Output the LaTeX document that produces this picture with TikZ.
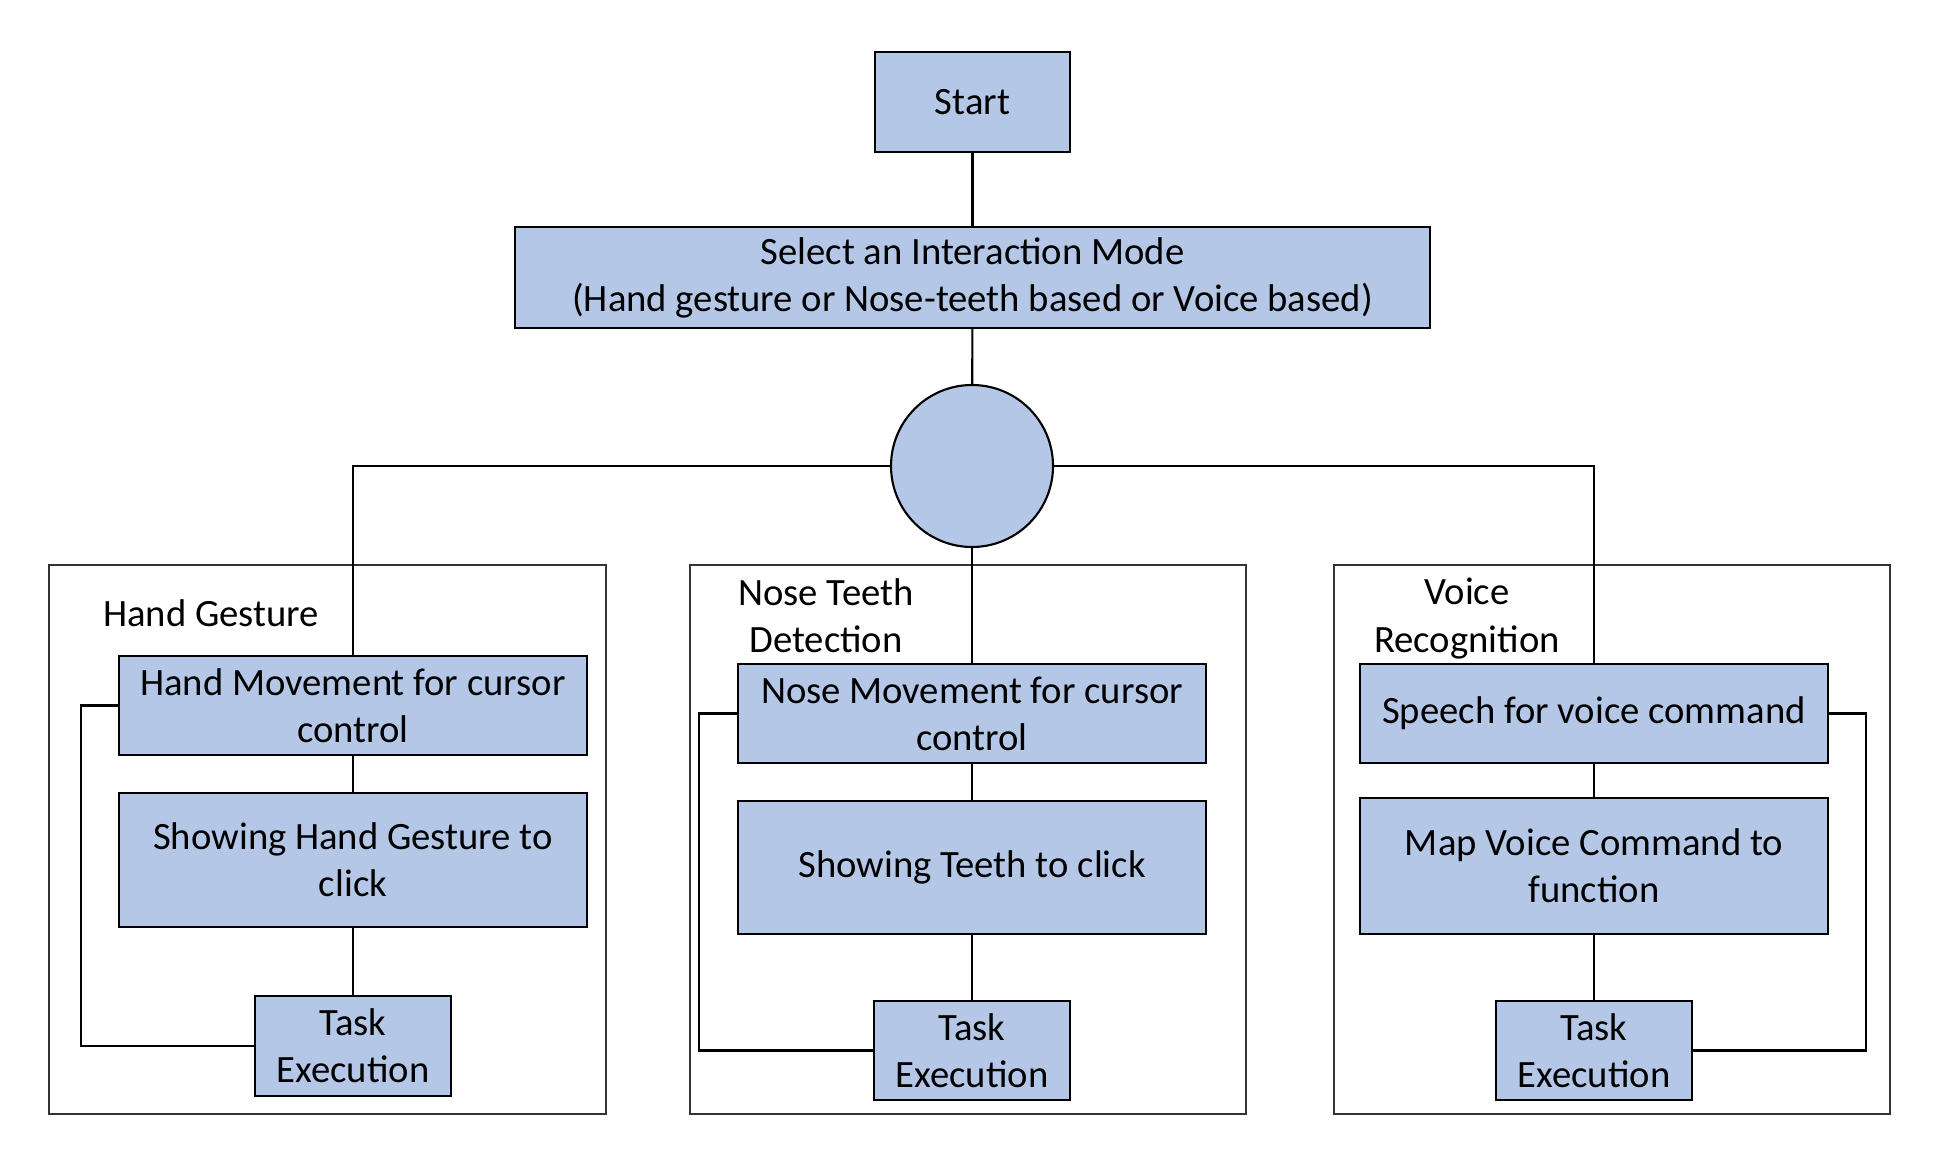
\documentclass[tikz,border=0pt]{standalone}
\usepackage{fontspec}
\setmainfont{Carlito}
\usetikzlibrary{shapes.geometric, positioning}
\definecolor{modeblue}{RGB}{180,199,231}
\tikzstyle{stepbox} = [
  rectangle,
  minimum width=4.68cm,
  minimum height=0.99cm,
  text centered,
  align=center,
  draw=black,
  line width=0.6pt,
  inner sep=0,
  fill=modeblue,
  font=\fontsize{11}{13.4}\selectfont
]
\tikzstyle{taskbox} = [
  stepbox,
  minimum width=1.96cm,
  minimum height=1cm
]
\tikzstyle{hub} = [
  circle,
  minimum size=1.62cm,
  draw=black,
  line width=0.6pt,
  inner sep=0,
  fill=modeblue
]
\tikzstyle{group} = [
  draw=black!80,
  line width=0.5pt
]
\tikzstyle{grouplabel} = [
  align=center,
  inner sep=0,
  font=\fontsize{11}{13.4}\selectfont
]
\tikzstyle{link} = [
  line width=0.6pt,
  draw=black
]

\begin{document}
\begin{tikzpicture}
      \useasboundingbox (0,0) rectangle (19.38,11.66);

      % mode groups
      \draw [group] (0.49,0.52) rectangle (6.06,6.01);
      \draw [group] (6.90,0.52) rectangle (12.46,6.01);
      \draw [group] (13.34,0.52) rectangle (18.90,6.01);

      \node [stepbox, minimum width=1.95cm, minimum height=1cm] (start) at (9.725,10.64) {Start};
      \node [stepbox, minimum width=9.15cm, minimum height=1.01cm] (select) at (9.725,8.885) {Select an Interaction Mode\\(Hand gesture or Nose-teeth based or Voice based)};
      \node [hub] (hub) at (9.72,7.0) {};

      \node [grouplabel] (hand label) at (2.11,5.53) {Hand Gesture};
      \node [stepbox] (hand move) at (3.53,4.605) {Hand Movement for cursor\\control};
      \node [stepbox, minimum height=1.34cm] (hand click) at (3.53,3.06) {Showing Hand Gesture to\\click};
      \node [taskbox] (hand task) at (3.53,1.20) {Task\\Execution};

      \node [grouplabel] (nose label) at (8.26,5.505) {Nose Teeth\\Detection};
      \node [stepbox] (nose move) at (9.72,4.525) {Nose Movement for cursor\\control};
      \node [stepbox, minimum height=1.33cm] (teeth click) at (9.72,2.985) {Showing Teeth to click};
      \node [taskbox, minimum height=0.99cm] (nose task) at (9.72,1.155) {Task\\Execution};

      \node [grouplabel] (voice label) at (14.67,5.475) {Voice\\Recognition};
      \node [stepbox] (speech) at (15.94,4.525) {Speech for voice command};
      \node [stepbox, minimum height=1.36cm] (map) at (15.94,3.0) {Map Voice Command to\\function};
      \node [taskbox, minimum height=0.99cm] (voice task) at (15.94,1.155) {Task\\Execution};

      \draw [link] (start) -- (select);
      \draw [link] (select) -- (hub);
      \draw [link] (hub.west) -| (hand move.north);
      \draw [link] (hub.east) -| (speech.north);
      \draw [link] (hub.south) -- (nose move.north);

      \draw [link] (hand move) -- (hand click);
      \draw [link] (hand click) -- (hand task);
      \draw [link] (hand task.west) -| ([xshift=-0.37cm]hand move.west) -- (hand move.west);

      \draw [link] (nose move) -- (teeth click);
      \draw [link] (teeth click) -- (nose task);
      \draw [link] (nose task.west) -| ([xshift=-0.38cm]nose move.west) -- (nose move.west);

      \draw [link] (speech) -- (map);
      \draw [link] (map) -- (voice task);
      \draw [link] (voice task.east) -| ([xshift=0.37cm]speech.east) -- (speech.east);

    \end{tikzpicture}
\end{document}
